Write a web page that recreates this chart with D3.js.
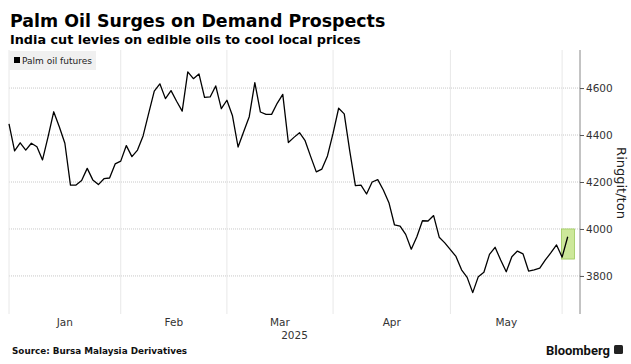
<!DOCTYPE html>
<html>
<head>
<meta charset="utf-8">
<script src="https://cdn.jsdelivr.net/npm/d3@7"></script>
<style>
  body { margin: 0; background: #fff; }
  svg { display: block; font-family: "DejaVu Sans", Verdana, sans-serif; }
</style>
</head>
<body>
<div id="chart"></div>
<script>
// daily closes, ringgit/ton, Jan 2 .. early Jun 2025 (trading days)
const prices = [
  4447, 4333, 4367, 4336, 4365, 4350, 4294, 4393, 4499, 4435,
  4365, 4187, 4187, 4206, 4258, 4209, 4189, 4214, 4217, 4277,
  4289, 4355, 4308, 4336, 4396, 4492, 4587, 4618, 4555, 4589,
  4544, 4502, 4669, 4640, 4660, 4560, 4562, 4609, 4512, 4548,
  4482, 4349, 4414, 4478, 4623, 4498, 4488, 4488, 4535, 4573,
  4368, 4390, 4410, 4376, 4308, 4243, 4255, 4311, 4407, 4514,
  4490, 4330, 4185, 4187, 4149, 4200, 4210, 4166, 4112, 4017,
  4012, 3977, 3914, 3967, 4035, 4034, 4057, 3965, 3941, 3912,
  3883, 3826, 3794, 3729, 3797, 3816, 3892, 3922, 3868, 3818,
  3882, 3906, 3894, 3821, 3826, 3833, 3868, 3899, 3932, 3880,
  3967
];
// index of first trading day of each month
const monthStarts = [0, 20, 39, 58, 79, 99];
const monthLabels = ['Jan', 'Feb', 'Mar', 'Apr', 'May'];
const yTicks = [3800, 4000, 4200, 4400, 4600];

const w = 631, h = 364;
const pL = 9, pR = 580, pT = 50, pB = 314;

const svg = d3.select('#chart').append('svg')
  .attr('width', w).attr('height', h);

const x = d3.scaleLinear().domain([0, 102.2]).range([pL, pR]);
const y = d3.scaleLinear().domain([3638, 4762]).range([pB, pT]);

// titles
svg.append('text').attr('x', 10).attr('y', 27)
  .attr('font-size', 17.4).attr('font-weight', 'bold').attr('fill', '#000')
  .text('Palm Oil Surges on Demand Prospects');
svg.append('text').attr('x', 10).attr('y', 44)
  .attr('font-size', 12.8).attr('font-weight', 'bold').attr('fill', '#000')
  .text('India cut levies on edible oils to cool local prices');

// grid
svg.append('g').selectAll('line').data(yTicks).enter().append('line')
  .attr('x1', pL).attr('x2', pR)
  .attr('y1', d => y(d)).attr('y2', d => y(d))
  .attr('stroke', '#c8c8c8').attr('stroke-dasharray', '1,1');

svg.append('g').selectAll('line').data(monthStarts).enter().append('line')
  .attr('x1', d => x(d)).attr('x2', d => x(d))
  .attr('y1', pT).attr('y2', pB)
  .attr('stroke', '#e8e8e8');

// legend
svg.append('rect').attr('x', 9).attr('y', 51).attr('width', 87).attr('height', 19)
  .attr('fill', '#f0f0f0');
svg.append('rect').attr('x', 14).attr('y', 57).attr('width', 6).attr('height', 6)
  .attr('fill', '#000');
svg.append('text').attr('x', 22).attr('y', 64)
  .attr('font-size', 9).attr('fill', '#222').text('Palm oil futures');

// highlight of last move
svg.append('rect')
  .attr('x', x(98.9)).attr('y', y(4000))
  .attr('width', x(101.2) - x(98.9)).attr('height', y(3872) - y(4000))
  .attr('fill', '#cde89a').attr('stroke', '#9cc95a').attr('stroke-width', 0.8);

// line
const line = d3.line().x((d, i) => x(i)).y(d => y(d));
svg.append('path').datum(prices)
  .attr('d', line).attr('fill', 'none')
  .attr('stroke', '#000').attr('stroke-width', 1.3).attr('stroke-linejoin', 'round');

// right axis
const yA = d3.axisRight(y).tickValues(yTicks).tickFormat(d3.format('d'))
  .tickSize(4).tickPadding(2);
const ga = svg.append('g').attr('transform', 'translate(' + pR + ',0)').call(yA);
ga.select('.domain').attr('d', 'M0,' + pT + 'V' + pB).attr('stroke', '#888');
ga.selectAll('.tick line').attr('stroke', '#555');
ga.selectAll('.tick text').attr('font-size', 10.5).attr('fill', '#333')
  .attr('font-family', '"DejaVu Sans", Verdana, sans-serif');

svg.append('text')
  .attr('transform', 'translate(617,183) rotate(90)')
  .attr('text-anchor', 'middle').attr('font-size', 13).attr('fill', '#222')
  .text('Ringgit/ton');

// month labels
svg.append('g').selectAll('text').data(monthLabels).enter().append('text')
  .attr('x', (d, i) => x((monthStarts[i] + monthStarts[i + 1]) / 2))
  .attr('y', 326).attr('text-anchor', 'middle')
  .attr('font-size', 10.5).attr('fill', '#333').text(d => d);
svg.append('text').attr('x', (pL + pR) / 2).attr('y', 339)
  .attr('text-anchor', 'middle').attr('font-size', 10.5).attr('fill', '#333').text('2025');

// footer
svg.append('text').attr('x', 12).attr('y', 354)
  .attr('font-size', 8.8).attr('font-weight', 'bold').attr('fill', '#111')
  .text('Source: Bursa Malaysia Derivatives');
svg.append('text').attr('x', 610).attr('y', 355).attr('text-anchor', 'end')
  .attr('font-size', 13).attr('font-weight', 'bold').attr('fill', '#111')
  .attr('font-family', 'Roboto, "Open Sans", sans-serif')
  .text('Bloomberg');
svg.append('rect').attr('x', 614).attr('y', 345).attr('width', 9).attr('height', 9)
  .attr('rx', 1.5).attr('fill', '#222');
</script>
</body>
</html>
